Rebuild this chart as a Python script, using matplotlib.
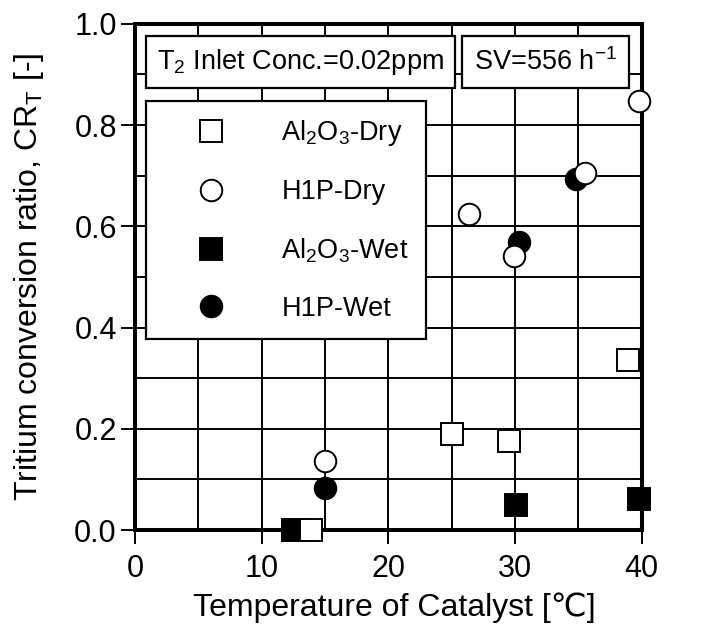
import matplotlib
matplotlib.use("Agg")
import matplotlib.pyplot as plt

plt.rcParams['font.family'] = ['Liberation Sans', 'DejaVu Sans']
plt.rcParams['mathtext.default'] = 'regular'

# data
al_dry_x = [13.9, 25.0, 29.5, 38.9]
al_dry_y = [0.0, 0.189, 0.176, 0.335]
h1p_dry_x = [15.0, 26.4, 29.9, 35.5, 39.8]
h1p_dry_y = [0.136, 0.625, 0.541, 0.706, 0.848]
al_wet_x = [12.5, 30.1, 39.8]
al_wet_y = [0.0, 0.049, 0.061]
h1p_wet_x = [15.0, 30.3, 34.8]
h1p_wet_y = [0.084, 0.570, 0.693]

xticks = [0, 10, 20, 30, 40]
yticks = [0.0, 0.2, 0.4, 0.6, 0.8, 1.0]

fig = plt.figure(figsize=(7.06, 6.28), dpi=100)
ax = fig.add_axes([0.191, 0.156, 0.718, 0.806])

for x in range(5, 40, 5):
    ax.axvline(x, color='black', lw=1.4, zorder=1)
for i in range(1, 10):
    ax.axhline(i / 10, color='black', lw=1.4, zorder=1)

ms = 15.5
ax.plot(al_dry_x, al_dry_y, 's', ms=ms, mfc='white', mec='black', mew=1.4,
        ls='none', clip_on=False, zorder=5, label='Al$_2$O$_3$-Dry')
ax.plot(h1p_dry_x, h1p_dry_y, 'o', ms=ms, mfc='white', mec='black', mew=1.4,
        ls='none', clip_on=False, zorder=6, label='H1P-Dry')
ax.plot(al_wet_x, al_wet_y, 's', ms=ms, mfc='black', mec='black', mew=1.4,
        ls='none', clip_on=False, zorder=4, label='Al$_2$O$_3$-Wet')
ax.plot(h1p_wet_x, h1p_wet_y, 'o', ms=ms, mfc='black', mec='black', mew=1.4,
        ls='none', clip_on=False, zorder=4, label='H1P-Wet')

ax.set_xlim(0, 40)
ax.set_ylim(0, 1.0)
ax.set_xticks(xticks)
ax.set_yticks(yticks)
ax.set_yticklabels(['%.1f' % v for v in yticks])
ax.tick_params(direction='out', length=10, width=1.4, labelsize=22)
ax.tick_params(axis='y', pad=3)
ax.tick_params(axis='x', pad=7)
for s in ax.spines.values():
    s.set_linewidth(2.9)
    s.set_zorder(3)

ax.set_xlabel('Temperature of Catalyst [\u2103]', fontsize=23)
ax.set_ylabel('Tritium conversion ratio, CR$_T$ [-]', fontsize=23)
ax.xaxis.set_label_coords(0.511, -0.124)
ax.yaxis.set_label_coords(-0.175, 0.5)

box = dict(boxstyle='square,pad=0.4', fc='white', ec='black', lw=1.6)
ax.text(1.74, 0.924, 'T$_2$ Inlet Conc.=0.02ppm', fontsize=19.5,
        va='center', ha='left', bbox=box, zorder=7)
box2 = dict(boxstyle='square,pad=0.45', fc='white', ec='black', lw=1.6)
ax.text(26.75, 0.924, 'SV=556 h$^{-1}$', fontsize=19.5,
        va='center', ha='left', bbox=box2, zorder=7)

leg = ax.legend(loc='upper left', bbox_to_anchor=(0.022, 0.848), fontsize=19.5,
                frameon=True, fancybox=False, framealpha=1, borderpad=0.65,
                labelspacing=1.14, handlelength=3.5, handletextpad=0.85,
                borderaxespad=0, markerscale=1.0)
leg.get_frame().set_edgecolor('black')
leg.get_frame().set_linewidth(1.6)
leg.set_zorder(7)

fig.savefig('out.png', dpi=100)
